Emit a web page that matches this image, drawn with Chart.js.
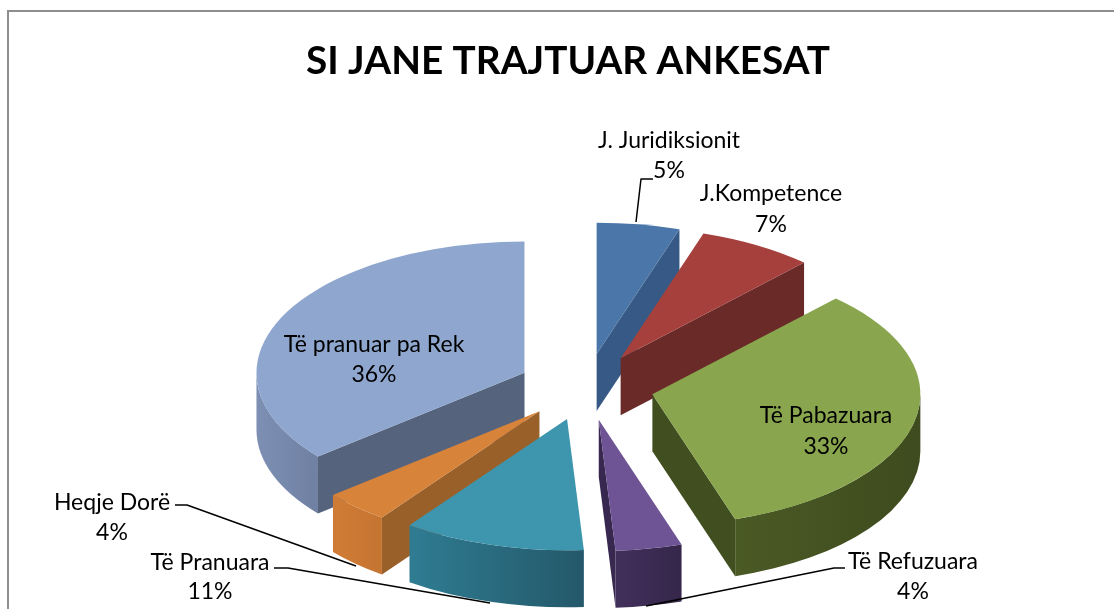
<!DOCTYPE html>
<html>
<head>
<meta charset="utf-8">
<script src="https://cdn.jsdelivr.net/npm/chart.js@4"></script>
<style>html,body{margin:0;padding:0;background:#fff;overflow:hidden}canvas{display:block}</style>
</head>
<body>
<canvas id="c" width="1114" height="609" style="width:1114px;height:609px"></canvas>
<script>
const categories = ["J. Juridiksionit","J.Kompetence","Të Pabazuara","Të Refuzuara","Të Pranuara","Heqje Dorë","Të pranuar pa Rek"];
const shares = [5,7,33,4,11,4,36];
const titleText = "SI JANE TRAJTUAR ANKESAT";

const topColors   = ["#4a76a9","#a5403d","#89a64e","#6e5494","#3e95ae","#d8833a","#8fa7cf"];
const cutColors   = ["#365a85","#6a2a28","#414f20","#38284f","#27596a","#99602a","#56637d"];
const wallLight   = ["#365a85","#6a2a28","#4a5a25","#42305c","#2f7c92","#d07c36","#7d90b4"];
const wallDark    = ["#365a85","#6a2a28","#3e4b1e","#35264a","#24586a","#c57431","#6f80a2"];

const FONT = "Lato, Carlito, 'Open Sans', sans-serif";
const PIE = {shiftX:18, cy:387, ky:0.49, depth:57};
// label centre x, first line centre y, second line centre y
const labelPos = [[669,141,171],[771,194,225],[826,416,447],[913,562,592],[210,563,592],[112,503,533],[374,345,375]];
const leaders = [
  [[636,222],[641,179],[653,179]],
  null,null,
  [[646,606],[834,568],[845,568]],
  [[490,603],[288,568],[274,568]],
  [[356,566],[187,505],[175,505]],
  null
];

function mid(a){return (a.startAngle+a.endAngle)/2;}
function pt(a,ang,r,z){
  const e=a.options.offset, m=mid(a);
  return [a.x+PIE.shiftX+r*Math.cos(ang)+e*Math.cos(m),
          PIE.cy+PIE.ky*(r*Math.sin(ang)+e*Math.sin(m))+z];
}
function cut(ctx,a,ang,color){
  const t0=pt(a,ang,0,0),t1=pt(a,ang,a.outerRadius,0);
  ctx.beginPath();ctx.moveTo(t0[0],t0[1]);ctx.lineTo(t1[0],t1[1]);
  ctx.lineTo(t1[0],t1[1]+PIE.depth);ctx.lineTo(t0[0],t0[1]+PIE.depth);ctx.closePath();
  ctx.fillStyle=color;ctx.fill();
}
function ellArc(ctx,a,z,from,to,ccw){
  const e=a.options.offset,m=mid(a);
  const x=a.x+PIE.shiftX+e*Math.cos(m), y=PIE.cy+PIE.ky*e*Math.sin(m)+z;
  ctx.ellipse(x,y,a.outerRadius,a.outerRadius*PIE.ky,0,from,to,ccw);
}
const pie3d={
  id:'pie3d',
  beforeDraw(chart){
    const ctx=chart.ctx;
    ctx.save();ctx.fillStyle='#fff';ctx.fillRect(0,0,chart.width,chart.height);
    ctx.strokeStyle='#8e8e8e';ctx.lineWidth=2;
    ctx.beginPath();ctx.moveTo(8,chart.height+2);ctx.lineTo(8,11);ctx.lineTo(chart.width+2,11);ctx.stroke();
    ctx.restore();
  },
  beforeDatasetsDraw(chart){
    const ctx=chart.ctx, arcs=chart.getDatasetMeta(0).data;
    const order=arcs.map((a,i)=>i).sort((p,q)=>Math.sin(mid(arcs[p]))-Math.sin(mid(arcs[q])));
    for(const i of order){
      const a=arcs[i];
      ctx.save();
      if(-Math.cos(a.startAngle)>0) cut(ctx,a,a.startAngle,cutColors[i]);
      if(Math.cos(a.endAngle)>0) cut(ctx,a,a.endAngle,cutColors[i]);
      const from=Math.max(a.startAngle,0), to=Math.min(a.endAngle,Math.PI);
      if(to>from){
        const p0=pt(a,from,a.outerRadius,0),p1=pt(a,to,a.outerRadius,0);
        const g=ctx.createLinearGradient(p1[0],0,p0[0],0);
        g.addColorStop(0,wallLight[i]);g.addColorStop(1,wallDark[i]);
        ctx.beginPath();
        ellArc(ctx,a,0,from,to,false);
        ellArc(ctx,a,PIE.depth,to,from,true);
        ctx.closePath();ctx.fillStyle=g;ctx.fill();
      }
      const tip=pt(a,0,0,0);
      ctx.beginPath();ctx.moveTo(tip[0],tip[1]);
      ellArc(ctx,a,0,a.startAngle,a.endAngle,false);
      ctx.closePath();ctx.fillStyle=a.options.backgroundColor;ctx.fill();
      ctx.restore();
    }
    return false;
  },
  afterDraw(chart){
    const ctx=chart.ctx,total=shares.reduce((s,v)=>s+v,0);
    ctx.save();
    ctx.strokeStyle='#000';ctx.lineWidth=1.5;ctx.lineJoin='round';
    leaders.forEach(l=>{ if(!l)return;
      ctx.beginPath();l.forEach((p,k)=>k?ctx.lineTo(p[0],p[1]):ctx.moveTo(p[0],p[1]));ctx.stroke();});
    ctx.fillStyle='#000';ctx.font="23px "+FONT;ctx.textAlign='center';ctx.textBaseline='middle';
    categories.forEach((n,i)=>{
      const p=labelPos[i];
      ctx.fillText(n,p[0],p[1]);
      ctx.fillText(Math.round(shares[i]/total*100)+"%",p[0],p[2]);
    });
    ctx.restore();
  }
};
new Chart(document.getElementById('c'),{
  type:'pie',
  data:{labels:categories,datasets:[{data:shares,backgroundColor:topColors,borderWidth:0,offset:68,radius:268}]},
  options:{
    responsive:false,animation:false,
    layout:{padding:{left:22,right:0,top:0,bottom:0}},
    plugins:{
      legend:{display:false},tooltip:{enabled:false},
      title:{display:true,text:titleText,color:'#000',font:{family:FONT,size:38.7,weight:'bold'},padding:{top:38.5,bottom:20}}
    }
  },
  plugins:[pie3d]
});
</script>
</body>
</html>
